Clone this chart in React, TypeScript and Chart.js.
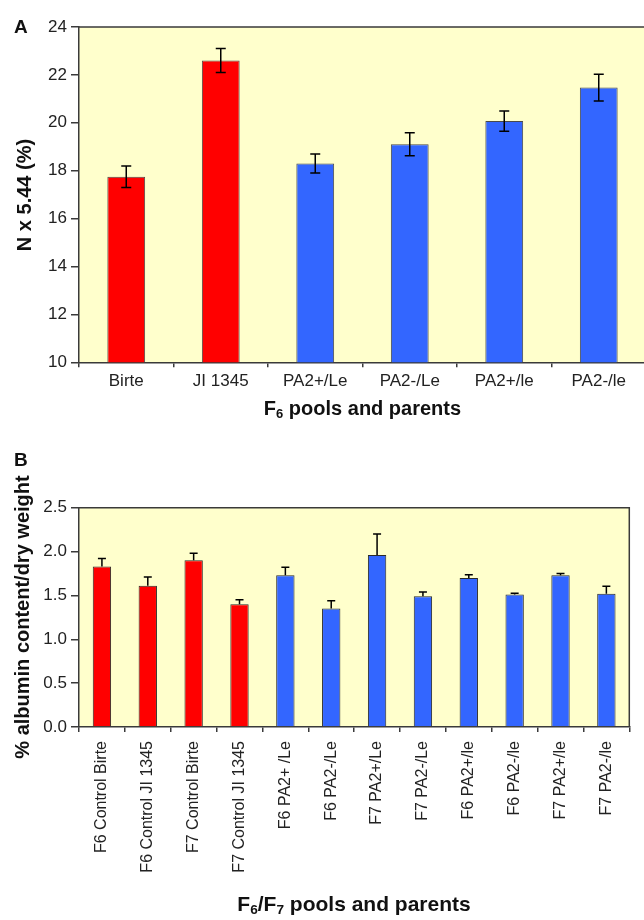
import React, { useEffect, useRef } from "react";
import { Chart, registerables } from "chart.js";

Chart.register(...registerables);

// ---------- Data ----------
const topCategories = ["Birte", "JI 1345", "PA2+/Le", "PA2-/Le", "PA2+/le", "PA2-/le"];
const topValues = [17.75, 22.6, 18.3, 19.1, 20.07, 21.47];
const topErrors = [0.45, 0.5, 0.4, 0.48, 0.42, 0.56];
const topColors = ["#FF0000", "#FF0000", "#3366FF", "#3366FF", "#3366FF", "#3366FF"];
const topTicks = [10, 12, 14, 16, 18, 20, 22, 24];

const bottomCategories = [
  "F6 Control Birte",
  "F6 Control JI 1345",
  "F7 Control Birte",
  "F7 Control JI 1345",
  "F6 PA2+ /Le",
  "F6 PA2-/Le",
  "F7 PA2+/Le",
  "F7 PA2-/Le",
  "F6 PA2+/le",
  "F6 PA2-/le",
  "F7 PA2+/le",
  "F7 PA2-/le",
];
const bottomValues = [1.83, 1.61, 1.9, 1.4, 1.73, 1.35, 1.96, 1.49, 1.7, 1.51, 1.73, 1.52];
const bottomErrors = [0.09, 0.1, 0.08, 0.05, 0.09, 0.09, 0.24, 0.05, 0.035, 0.015, 0.02, 0.085];
const bottomColors = [
  "#FF0000", "#FF0000", "#FF0000", "#FF0000",
  "#3366FF", "#3366FF", "#3366FF", "#3366FF",
  "#3366FF", "#3366FF", "#3366FF", "#3366FF",
];
const bottomTicks = [0, 0.5, 1.0, 1.5, 2.0, 2.5];

const FONT = "'Liberation Sans', Arial, Helvetica, sans-serif";
const PLOT_BG = "#FFFFCC";
const AXIS = "#3a3a3a";

function makeFramePlugin(drawRight: boolean) {
  return {
    id: "frame",
    beforeDraw(chart: any) {
      const { ctx, chartArea: a } = chart;
      ctx.save();
      ctx.fillStyle = PLOT_BG;
      ctx.fillRect(a.left, a.top, a.right - a.left, a.bottom - a.top);
      ctx.restore();
    },
    afterDraw(chart: any) {
      const { ctx, chartArea: a } = chart;
      ctx.save();
      ctx.strokeStyle = AXIS;
      ctx.lineWidth = 1.5;
      ctx.beginPath();
      ctx.moveTo(a.left, a.top);
      ctx.lineTo(a.right, a.top);
      if (drawRight) ctx.lineTo(a.right, a.bottom);
      ctx.stroke();
      ctx.restore();
    },
  };
}

function makeErrorPlugin(errors: number[], twoSided: boolean, capHalf: number) {
  return {
    id: "errorbars",
    afterDatasetsDraw(chart: any) {
      const { ctx } = chart;
      const meta = chart.getDatasetMeta(0);
      const ys = chart.scales.y;
      const vals = chart.data.datasets[0].data as number[];
      ctx.save();
      ctx.strokeStyle = "#000";
      ctx.lineWidth = 1.5;
      meta.data.forEach((bar: any, i: number) => {
        const x = bar.x;
        const v = vals[i];
        const e = errors[i];
        const yTop = ys.getPixelForValue(v + e);
        const yBot = twoSided ? ys.getPixelForValue(v - e) : ys.getPixelForValue(v);
        ctx.beginPath();
        ctx.moveTo(x, yTop);
        ctx.lineTo(x, yBot);
        ctx.moveTo(x - capHalf, yTop);
        ctx.lineTo(x + capHalf, yTop);
        if (twoSided) {
          ctx.moveTo(x - capHalf, yBot);
          ctx.lineTo(x + capHalf, yBot);
        }
        ctx.stroke();
      });
      ctx.restore();
    },
  };
}

const TOP_W = 660;
const TOP_H = 440;
const BOT_W = 644;
const BOT_H = 480;
const BOT_OFFSET = 440;

export default function App() {
  const topRef = useRef<HTMLCanvasElement | null>(null);
  const botRef = useRef<HTMLCanvasElement | null>(null);

  useEffect(() => {
    const yFont = { family: FONT, size: 17 };
    const xFont = { family: FONT, size: 17 };
    const rotFont = { family: FONT, size: 16 };
    const topChart = new Chart(topRef.current as HTMLCanvasElement, {
      type: "bar",
      data: {
        labels: topCategories,
        datasets: [
          {
            data: topValues,
            backgroundColor: topColors,
            borderColor: "#4a4a4a",
            borderWidth: 1,
            barPercentage: 0.4,
            categoryPercentage: 1,
          },
        ],
      },
      options: {
        responsive: false,
        animation: false,
        devicePixelRatio: 1,
        layout: { padding: { left: 0, right: 14, top: 27, bottom: 0 } },
        plugins: { legend: { display: false }, tooltip: { enabled: false } },
        scales: {
          x: {
            grid: { drawOnChartArea: false, drawTicks: true, tickLength: 5, color: AXIS, offset: true, lineWidth: 1.5 },
            border: { display: true, color: AXIS, width: 1.5 },
            ticks: { font: xFont, color: "#222", padding: 4, maxRotation: 0, autoSkip: false },
            afterFit: (s: any) => {
              s.height = TOP_H - 362.3;
            },
          },
          y: {
            min: topTicks[0],
            max: topTicks[topTicks.length - 1],
            afterBuildTicks: (s: any) => {
              s.ticks = topTicks.map((v) => ({ value: v }));
            },
            ticks: { font: yFont, color: "#222", padding: 4 },
            grid: { drawOnChartArea: false, drawTicks: true, tickLength: 8, color: AXIS, lineWidth: 1.5 },
            border: { display: true, color: AXIS, width: 1.5 },
            afterFit: (s: any) => {
              s.width = 79;
            },
          },
        },
      },
      plugins: [makeFramePlugin(true), makeErrorPlugin(topErrors, true, 5)],
    } as any);

    const botChart = new Chart(botRef.current as HTMLCanvasElement, {
      type: "bar",
      data: {
        labels: bottomCategories,
        datasets: [
          {
            data: bottomValues,
            backgroundColor: bottomColors,
            borderColor: "#2a2a2a",
            borderWidth: 1,
            barPercentage: 0.4,
            categoryPercentage: 1,
          },
        ],
      },
      options: {
        responsive: false,
        animation: false,
        devicePixelRatio: 1,
        layout: { padding: { left: 0, right: BOT_W - 629.3, top: 507.7 - BOT_OFFSET, bottom: 0 } },
        plugins: { legend: { display: false }, tooltip: { enabled: false } },
        scales: {
          x: {
            grid: { drawOnChartArea: false, drawTicks: true, tickLength: 5, color: AXIS, offset: true, lineWidth: 1.5 },
            border: { display: true, color: AXIS, width: 1.5 },
            ticks: { font: rotFont, color: "#222", padding: 9, minRotation: 90, maxRotation: 90, autoSkip: false },
            afterFit: (s: any) => {
              s.height = BOT_H - (727 - BOT_OFFSET);
            },
          },
          y: {
            min: bottomTicks[0],
            max: bottomTicks[bottomTicks.length - 1],
            afterBuildTicks: (s: any) => {
              s.ticks = bottomTicks.map((v) => ({ value: v }));
            },
            ticks: {
              font: yFont,
              color: "#222",
              padding: 4,
              callback: (v: any) => Number(v).toFixed(1),
            },
            grid: { drawOnChartArea: false, drawTicks: true, tickLength: 8, color: AXIS, lineWidth: 1.5 },
            border: { display: true, color: AXIS, width: 1.5 },
            afterFit: (s: any) => {
              s.width = 79;
            },
          },
        },
      },
      plugins: [makeFramePlugin(true), makeErrorPlugin(bottomErrors, false, 4)],
    } as any);

    return () => {
      topChart.destroy();
      botChart.destroy();
    };
  }, []);

  const titleStyle: React.CSSProperties = {
    position: "absolute",
    fontFamily: FONT,
    fontWeight: "bold",
    fontSize: 20,
    lineHeight: "20px",
    color: "#111",
    textAlign: "center",
    whiteSpace: "nowrap",
  };
  const subStyle: React.CSSProperties = { fontSize: "0.65em", verticalAlign: "-0.25em" };
  const letterStyle: React.CSSProperties = {
    position: "absolute",
    fontFamily: FONT,
    fontWeight: "bold",
    fontSize: 19,
    lineHeight: "19px",
    color: "#111",
  };

  return (
    <div
      style={{
        position: "absolute",
        left: 0,
        top: 0,
        width: 644,
        height: 920,
        overflow: "hidden",
        background: "#fff",
      }}
    >
      <canvas
        ref={topRef}
        width={TOP_W}
        height={TOP_H}
        style={{ position: "absolute", left: 0, top: 0, width: TOP_W, height: TOP_H }}
      />
      <canvas
        ref={botRef}
        width={BOT_W}
        height={BOT_H}
        style={{ position: "absolute", left: 0, top: BOT_OFFSET, width: BOT_W, height: BOT_H }}
      />
      <div style={{ ...letterStyle, left: 14, top: 17 }}>A</div>
      <div style={{ ...letterStyle, left: 14, top: 450 }}>B</div>

      <div style={{ ...titleStyle, left: 79, width: 567, top: 398 }}>
        F<span style={subStyle}>6</span> pools and parents
      </div>
      <div style={{ ...titleStyle, fontSize: 21, left: 79, width: 550, top: 894 }}>
        F<span style={subStyle}>6</span>/F<span style={subStyle}>7</span> pools and parents
      </div>

      <div
        style={{
          ...titleStyle,
          width: 300,
          height: 20,
          left: 24 - 150,
          top: 194.5 - 10,
          transform: "rotate(-90deg)",
          transformOrigin: "center center",
        }}
      >
        N x 5.44 (%)
      </div>
      <div
        style={{
          ...titleStyle,
          width: 320,
          height: 20,
          left: 22 - 160,
          top: 617 - 10,
          transform: "rotate(-90deg)",
          transformOrigin: "center center",
        }}
      >
        % albumin content/dry weight
      </div>
    </div>
  );
}
